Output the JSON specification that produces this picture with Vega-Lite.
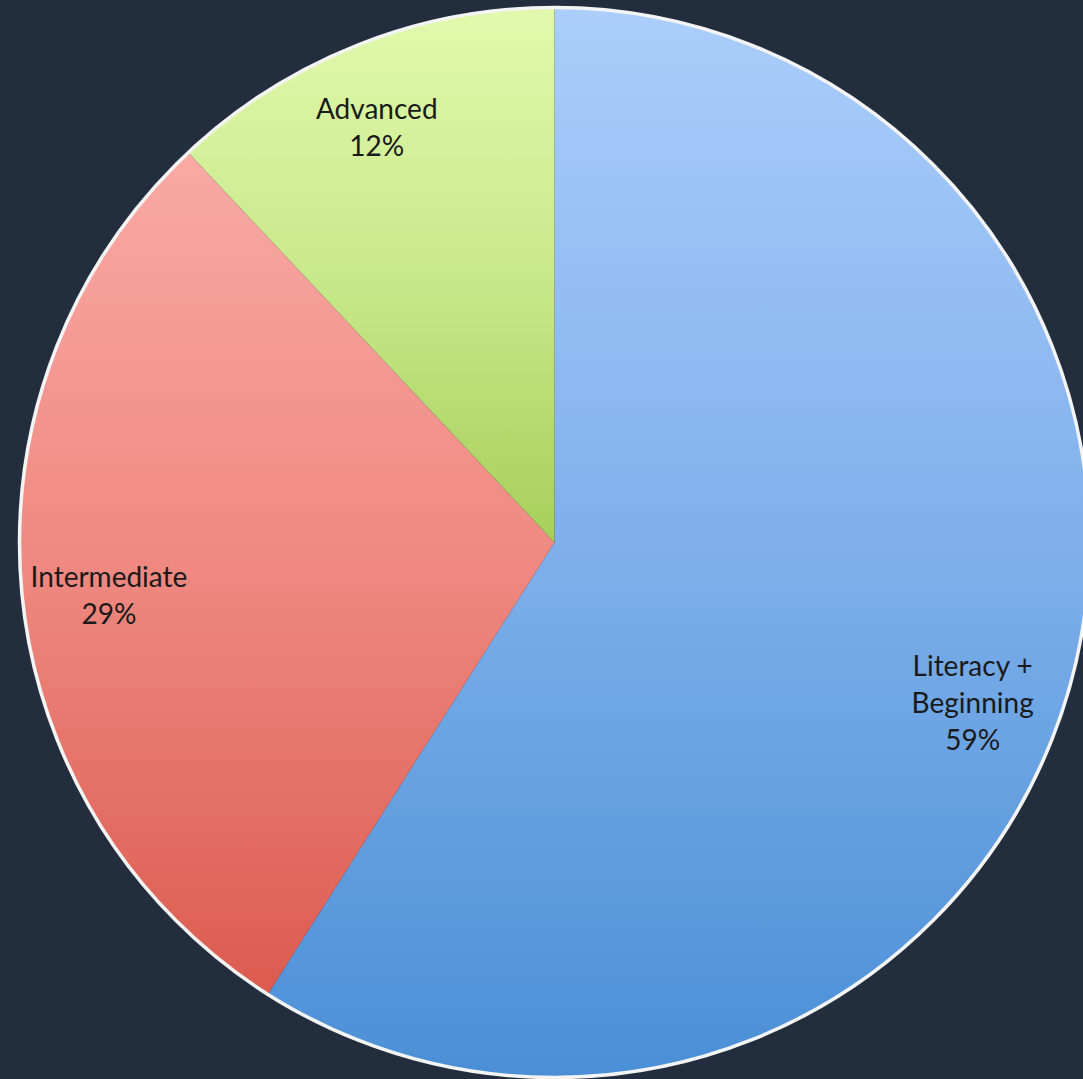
{
  "$schema": "https://vega.github.io/schema/vega-lite/v6.json",
  "width": 1057,
  "height": 1073,
  "autosize": {"type": "none"},
  "padding": {"left": 26, "top": 6, "right": 0, "bottom": 0},
  "background": "#222e3d",
  "config": {"view": {"stroke": null}},
  "data": {
    "values": [
      {"cat": "Literacy + Beginning", "label": "Literacy +\nBeginning\n59%", "value": 59, "ord": 1},
      {"cat": "Intermediate", "label": "Intermediate\n29%", "value": 29, "ord": 2},
      {"cat": "Advanced", "label": "Advanced\n12%", "value": 12, "ord": 3}
    ]
  },
  "transform": [
    {"stack": "value", "groupby": [], "sort": [{"field": "ord", "order": "ascending"}], "as": ["v0", "v1"]}
  ],
  "layer": [
    {
      "transform": [{"filter": "datum.cat === 'Literacy + Beginning'"}],
      "mark": {
        "type": "arc", "outerRadius": 535,
        "fill": {"gradient": "linear", "x1": 0, "y1": 0, "x2": 0, "y2": 1,
          "stops": [{"offset": 0, "color": "#abcefb"}, {"offset": 0.5, "color": "#7fb0eb"}, {"offset": 1, "color": "#4a8fd6"}]}
      },
      "encoding": {
        "theta": {"field": "v0", "type": "quantitative", "scale": {"domain": [0, 100]}},
        "theta2": {"field": "v1"}
      }
    },
    {
      "transform": [{"filter": "datum.cat === 'Intermediate'"}],
      "mark": {
        "type": "arc", "outerRadius": 535,
        "fill": {"gradient": "linear", "x1": 0, "y1": 0, "x2": 0, "y2": 1,
          "stops": [{"offset": 0, "color": "#faa9a5"}, {"offset": 0.5, "color": "#ee8880"}, {"offset": 1, "color": "#dc5b4f"}]}
      },
      "encoding": {
        "theta": {"field": "v0", "type": "quantitative", "scale": {"domain": [0, 100]}},
        "theta2": {"field": "v1"}
      }
    },
    {
      "transform": [{"filter": "datum.cat === 'Advanced'"}],
      "mark": {
        "type": "arc", "outerRadius": 535,
        "fill": {"gradient": "linear", "x1": 0, "y1": 0, "x2": 0, "y2": 1,
          "stops": [{"offset": 0, "color": "#e1f9ad"}, {"offset": 0.5, "color": "#c8e98a"}, {"offset": 1, "color": "#a6cf5b"}]}
      },
      "encoding": {
        "theta": {"field": "v0", "type": "quantitative", "scale": {"domain": [0, 100]}},
        "theta2": {"field": "v1"}
      }
    },
    {
      "data": {"values": [{"ring": "outline"}]},
      "mark": {"type": "arc", "outerRadius": 535, "fill": null, "fillOpacity": 0, "stroke": "#f4f4f4", "strokeWidth": 3.5},
      "encoding": {}
    },
    {
      "mark": {
        "type": "text", "radius": 449, "font": "Lato", "fontSize": 28, "lineHeight": 37,
        "lineBreak": "\n", "color": "#1a1a1a", "align": "center", "baseline": "middle",
        "thetaOffset": {"expr": "datum.cat === 'Literacy + Beginning' ? 0.09 : -0.03"},
        "dy": {"expr": "datum.cat === 'Literacy + Beginning' ? -38 : -19"}
      },
      "encoding": {
        "theta": {"field": "value", "type": "quantitative", "stack": true},
        "order": {"field": "ord", "type": "quantitative"},
        "text": {"field": "label", "type": "nominal"}
      }
    }
  ]
}
